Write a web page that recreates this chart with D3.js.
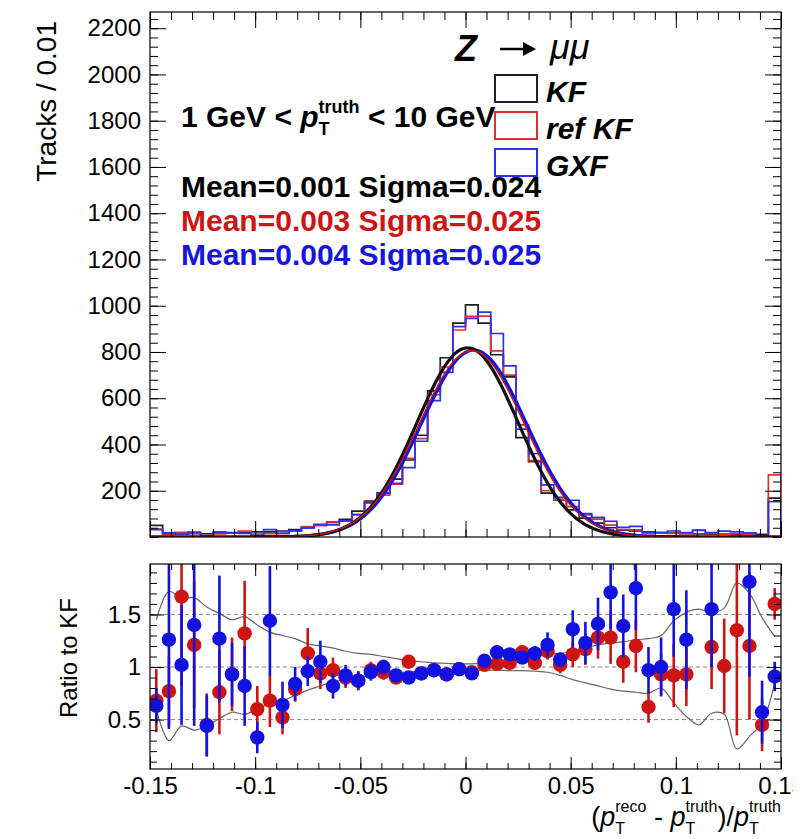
<!DOCTYPE html>
<html>
<head>
<meta charset="utf-8">
<script src="https://cdn.jsdelivr.net/npm/d3@7"></script>
<style>
  body { margin: 0; background: #fff; }
  svg { display: block; font-family: "Liberation Sans", Arial, Helvetica, sans-serif; }
  text { white-space: pre; }
</style>
</head>
<body>
<svg id="chart"></svg>
<script>
// Svg element dimensions
const width = 809;
const height = 839;

// Binning of the residual histograms
const xMin = -0.15;
const binWidth = 0.006;
const nBins = 50;

// Tracks per bin
const kfCounts = [50, 14, 12, 15, 14, 17, 19, 20, 22, 22,
  26, 32, 40, 52, 64, 76, 112, 155, 190, 250,
  333, 440, 632, 775, 925, 1004, 925, 788, 692, 430,
  326, 190, 160, 117, 82, 60, 40, 30, 26, 22,
  19, 17, 15, 13, 12, 12, 10, 10, 11, 168];
const refCounts = [34, 11, 20, 18, 6, 13, 18, 26, 13, 15,
  14, 25, 45, 49, 62, 68, 97, 150, 181, 228,
  340, 425, 615, 735, 895, 954, 955, 805, 700, 485,
  330, 200, 163, 131, 96, 77, 51, 32, 31, 14,
  18, 16, 14, 28, 14, 12, 14, 12, 5, 269];
const gxfCounts = [32, 18, 12, 21, 6, 22, 18, 16, 7, 32,
  17, 27, 38, 55, 52, 70, 97, 147, 190, 232,
  300, 414, 590, 712, 910, 945, 972, 880, 740, 466,
  360, 225, 171, 159, 101, 85, 68, 42, 46, 21,
  19, 26, 19, 30, 19, 25, 22, 18, 6, 153];

// Gaussian fit results (KF, ref KF, GXF)
const fitMean = [0.001, 0.003, 0.004];
const fitSigma = [0.024, 0.025, 0.025];
const fitPeak = [818, 806, 808];

// Ratio to KF, with error bars
const ratioRef = [0.68, 0.77, 1.67, 1.21, 0.45, 0.76, 0.93, 1.32, 0.60, 0.68,
  0.52, 0.79, 1.13, 0.94, 0.97, 0.90, 0.87, 0.97, 0.95, 0.90,
  1.05, 0.94, 0.97, 0.93, 0.98, 0.95, 1.02, 1.03, 1.04, 1.14,
  1.04, 1.15, 1.02, 1.12, 1.17, 1.28, 1.28, 1.05, 1.20, 0.62,
  0.93, 0.92, 0.93, null, 1.19, 1.01, 1.35, 1.20, 0.45, 1.60];
const ratioRefErr = [0.30, 0.33, 0.85, 0.60, 0.30, 0.40, 0.35, 0.50, 0.22, 0.25,
  0.16, 0.12, 0.24, 0.15, 0.12, 0.10, 0.09, 0.08, 0.07, 0.06,
  0.06, 0.05, 0.05, 0.05, 0.05, 0.05, 0.05, 0.05, 0.05, 0.06,
  0.07, 0.08, 0.08, 0.12, 0.15, 0.20, 0.25, 0.20, 0.25, 0.15,
  0.20, 0.30, 0.30, null, 0.40, 0.45, 1.00, 0.70, 0.25, 0.15];
const ratioGxf = [0.63, 1.26, 1.02, 1.40, 0.44, 1.27, 0.93, 0.82, 0.33, 1.44,
  0.64, 0.84, 0.96, 1.05, 0.82, 0.92, 0.87, 0.95, 1.00, 0.92,
  0.90, 0.94, 0.97, 0.93, 0.98, 0.94, 1.06, 1.14, 1.12, 1.09,
  1.13, 1.21, 1.07, 1.36, 1.23, 1.41, 1.71, 1.39, 1.75, 0.97,
  1.00, 1.55, 1.26, null, 1.55, null, null, 1.81, 0.57, 0.91];
const ratioGxfErr = [0.17, 0.85, 0.57, 0.96, 0.29, 0.60, 0.30, 0.38, 0.15, 0.52,
  0.22, 0.16, 0.14, 0.20, 0.12, 0.10, 0.09, 0.08, 0.07, 0.06,
  0.06, 0.05, 0.05, 0.05, 0.05, 0.05, 0.05, 0.05, 0.05, 0.06,
  0.07, 0.12, 0.07, 0.18, 0.20, 0.25, 0.35, 0.30, 0.40, 0.22,
  0.28, 0.45, 0.47, null, 0.55, null, null, 0.90, 0.30, 0.14];

// Grey uncertainty band on the ratio
const bandUp = [1.45, 1.72, 1.65, 1.66, 1.57, 1.51, 1.45, 1.48, 1.40, 1.33,
  1.30, 1.27, 1.22, 1.20, 1.18, 1.15, 1.13, 1.12, 1.10, 1.08,
  1.06, 1.05, 1.04, 1.035, 1.03, 1.03, 1.04, 1.05, 1.06, 1.08,
  1.10, 1.12, 1.13, 1.15, 1.18, 1.21, 1.23, 1.24, 1.26, 1.27,
  1.30, 1.44, 1.52, 1.55, 1.52, 1.56, 1.80, 1.70, 1.47, 1.29];
const bandDown = [0.60, 0.30, 0.44, 0.40, 0.44, 0.51, 0.57, 0.55, 0.60, 0.65,
  0.68, 0.73, 0.78, 0.82, 0.86, 0.88, 0.90, 0.92, 0.94, 0.95,
  0.95, 0.96, 0.965, 0.965, 0.97, 0.97, 0.97, 0.97, 0.965, 0.965,
  0.96, 0.95, 0.92, 0.88, 0.85, 0.82, 0.79, 0.77, 0.76, 0.75,
  0.80, 0.66, 0.53, 0.45, 0.56, 0.55, 0.22, 0.34, 0.47, 0.85];

// Axis ticks
const xTicks = [-0.15, -0.1, -0.05, 0, 0.05, 0.1, 0.15];
const yTicks = [200, 400, 600, 800, 1000, 1200, 1400, 1600, 1800, 2000, 2200];
const ratioTicks = [0.5, 1, 1.5];

const lineColors = ["#1e1e1e", "#dd3030", "#3030ee"];
const markerColors = ["#111", "#cc1512", "#1212e0"];

const svg = d3.select("#chart").attr("width", width).attr("height", height);

// Frames
const main = { left: 150, right: 781, top: 12, bottom: 537 };
const ratio = { left: 150, right: 781, top: 564, bottom: 769 };

const xScale = d3.scaleLinear().domain([-0.15, 0.15]).range([main.left, main.right]);
const yScale = d3.scaleLinear().domain([0, 2270]).range([main.bottom, main.top]);
const rScale = d3.scaleLinear().domain([0.03, 1.98]).range([ratio.bottom, ratio.top]);

const binIdx = d3.range(nBins);
const binLo = (i) => xMin + i * binWidth;
const binMid = (i) => xMin + (i + 0.5) * binWidth;

const defs = svg.append("defs");
defs.append("clipPath").attr("id", "clipMain")
  .append("rect").attr("x", main.left).attr("y", main.top)
  .attr("width", main.right - main.left).attr("height", main.bottom - main.top);
defs.append("clipPath").attr("id", "clipRatio")
  .append("rect").attr("x", ratio.left).attr("y", ratio.top)
  .attr("width", ratio.right - ratio.left).attr("height", ratio.bottom - ratio.top);
defs.append("clipPath").attr("id", "clipPage")
  .append("rect").attr("x", 0).attr("y", 0).attr("width", 793).attr("height", height);

// ---- ticks (ROOT style: inward, on all four sides)
const minorX = d3.range(-15, 16).map((v) => v / 100);
const fmt = (d) => String(d);

function ticks(frame, y, yMajor, yMinor, len) {
  const g = svg.append("g");
  const put = (axis, tx, ty) => {
    const a = g.append("g").attr("transform", `translate(${tx},${ty})`).call(axis);
    a.select(".domain").remove();
    a.selectAll(".tick line").attr("stroke", "#000").attr("stroke-width", 1);
    return a;
  };
  put(d3.axisBottom(xScale).tickValues(xTicks).tickSize(-len.xMaj).tickFormat(""), 0, frame.bottom);
  put(d3.axisBottom(xScale).tickValues(minorX).tickSize(-len.xMin).tickFormat(""), 0, frame.bottom);
  put(d3.axisTop(xScale).tickValues(xTicks).tickSize(-len.xMaj).tickFormat(""), 0, frame.top);
  put(d3.axisTop(xScale).tickValues(minorX).tickSize(-len.xMin).tickFormat(""), 0, frame.top);
  put(d3.axisLeft(y).tickValues(yMinor).tickSize(-len.yMin).tickFormat(""), frame.left, 0);
  put(d3.axisRight(y).tickValues(yMinor).tickSize(-len.yMin).tickFormat(""), frame.right, 0);
  put(d3.axisRight(y).tickValues(yMajor).tickSize(-len.yMaj).tickFormat(""), frame.right, 0);
  const left = put(d3.axisLeft(y).tickValues(yMajor).tickSize(-len.yMaj).tickPadding(9).tickFormat(fmt), frame.left, 0);
  left.attr("font-family", null).attr("font-size", 24).selectAll("text").attr("fill", "#000");
  g.append("rect").attr("x", frame.left).attr("y", frame.top)
    .attr("width", frame.right - frame.left).attr("height", frame.bottom - frame.top)
    .attr("fill", "none").attr("stroke", "#000").attr("stroke-width", 1.2);
}

// ---- top panel: histograms and fits
const hist = svg.append("g").attr("clip-path", "url(#clipMain)");

[kfCounts, refCounts, gxfCounts].forEach((counts, k) => {
  let d = `M${xScale(binLo(0))},${yScale(0)}`;
  counts.forEach((c, i) => {
    d += `V${yScale(c)}H${xScale(binLo(i + 1))}`;
  });
  d += `V${yScale(0)}`;
  hist.append("path").attr("d", d).attr("fill", "none")
    .attr("stroke", lineColors[k]).attr("stroke-width", 1.7);
});

// fit curves: GXF and KF thick, ref KF thin on top
const fitX = d3.range(0, 301).map((i) => -0.15 + i * 0.001);
[2, 0, 1].forEach((k) => {
  const line = d3.line()
    .x((x) => xScale(x))
    .y((x) => yScale(fitPeak[k] * Math.exp(-0.5 * ((x - fitMean[k]) / fitSigma[k]) ** 2)));
  hist.append("path").datum(fitX).attr("d", line).attr("fill", "none")
    .attr("stroke", markerColors[k])
    .attr("stroke-width", k === 1 ? 1.5 : 3.2);
});

ticks(main, yScale, yTicks, d3.range(0, 2271, 40),
  { xMaj: 16, xMin: 8, yMaj: 16, yMin: 8 });

// ---- ratio panel
const rg = svg.append("g").attr("clip-path", "url(#clipRatio)");

rg.selectAll("line.grid").data(ratioTicks).enter().append("line")
  .attr("x1", ratio.left).attr("x2", ratio.right)
  .attr("y1", (d) => rScale(d)).attr("y2", (d) => rScale(d))
  .attr("stroke", "#888").attr("stroke-width", 1).attr("stroke-dasharray", "4,3");

[bandUp, bandDown].forEach((band) => {
  const line = d3.line().curve(d3.curveCatmullRom)
    .x((d, i) => xScale(binMid(i))).y((d) => rScale(d));
  rg.append("path").datum(band).attr("d", line).attr("fill", "none")
    .attr("stroke", "#666").attr("stroke-width", 1.2);
});

[[ratioRef, ratioRefErr, 1], [ratioGxf, ratioGxfErr, 2]].forEach(([vals, errs, k]) => {
  const pts = binIdx.filter((i) => vals[i] !== null);
  rg.append("g").selectAll("line").data(pts).enter().append("line")
    .attr("x1", (i) => xScale(binMid(i))).attr("x2", (i) => xScale(binMid(i)))
    .attr("y1", (i) => rScale(vals[i] - errs[i])).attr("y2", (i) => rScale(vals[i] + errs[i]))
    .attr("stroke", markerColors[k]).attr("stroke-width", 2.6);
  rg.append("g").selectAll("circle").data(pts).enter().append("circle")
    .attr("cx", (i) => xScale(binMid(i))).attr("cy", (i) => rScale(vals[i]))
    .attr("r", 7.2).attr("fill", markerColors[k]);
});

ticks(ratio, rScale, ratioTicks, d3.range(0.1, 1.95, 0.1).map((v) => +v.toFixed(1)),
  { xMaj: 12, xMin: 6, yMaj: 14, yMin: 7 });

// x tick labels under the ratio panel (right end cut as in the original)
const xLab = svg.append("g").attr("clip-path", "url(#clipPage)")
  .append("g").attr("transform", `translate(0,${ratio.bottom})`)
  .call(d3.axisBottom(xScale).tickValues(xTicks).tickSize(0).tickPadding(8).tickFormat(fmt));
xLab.select(".domain").remove();
xLab.attr("font-family", null).attr("font-size", 24).selectAll("text").attr("fill", "#000");

// ---- text helpers
function richText(parts, x, y, anchor) {
  const g = svg.append("g");
  let cx = 0;
  const add = (txt, px, dy, p) => g.append("text").attr("x", px).attr("y", dy)
    .attr("font-size", p.size).attr("font-weight", p.bold ? "bold" : "normal")
    .attr("font-style", p.italic ? "italic" : "normal")
    .attr("fill", p.color || "#000").text(txt);
  parts.forEach((p) => {
    if (p.sup !== undefined) {
      const a = add(p.sup, cx, -p.up, p);
      const b = add(p.sub, cx, p.down, p);
      cx += Math.max(a.node().getComputedTextLength(), b.node().getComputedTextLength());
    } else {
      cx += add(p.t, cx, 0, p).node().getComputedTextLength();
    }
  });
  g.attr("transform", `translate(${anchor === "end" ? x - cx : x},${y})`);
  return g;
}

// Axis titles
svg.append("text").attr("transform", "translate(56,21) rotate(-90)")
  .attr("text-anchor", "end").attr("font-size", 28).text("Tracks / 0.01");
svg.append("text").attr("transform", "translate(77,598) rotate(-90)")
  .attr("text-anchor", "end").attr("font-size", 24).text("Ratio to KF");

richText([
  { t: "(", size: 27 },
  { t: "p", size: 27, italic: true },
  { sup: "reco", sub: "T", size: 16, up: 14, down: 8 },
  { t: " - ", size: 27 },
  { t: "p", size: 27, italic: true },
  { sup: "truth", sub: "T", size: 16, up: 14, down: 8 },
  { t: ")/", size: 27 },
  { t: "p", size: 27, italic: true },
  { sup: "truth", sub: "T", size: 16, up: 14, down: 8 }
], 781, 826, "end");

// Selection label
richText([
  { t: "1 GeV < ", size: 30, bold: true },
  { t: "p", size: 30, bold: true, italic: true },
  { sup: "truth", sub: "T", size: 18, bold: true, up: 14, down: 8 },
  { t: " < 10 GeV", size: 30, bold: true }
], 181, 127);

// Fit results
const statColors = ["#000", "#cc1515", "#1515dd"];
fitMean.forEach((m, k) => {
  svg.append("text").attr("x", 181).attr("y", 197 + k * 34)
    .attr("font-size", 30).attr("font-weight", "bold").attr("fill", statColors[k])
    .text(`Mean=${m.toFixed(3)} Sigma=${fitSigma[k].toFixed(3)}`);
});

// Process label
svg.append("text").attr("x", 455).attr("y", 61).attr("font-size", 36)
  .attr("font-weight", "bold").attr("font-style", "italic").text("Z");
svg.append("line").attr("x1", 500).attr("x2", 526).attr("y1", 49).attr("y2", 49)
  .attr("stroke", "#000").attr("stroke-width", 2.5);
svg.append("path").attr("d", "M523,42L536,49L523,56Z").attr("fill", "#000");
svg.append("text").attr("x", 550).attr("y", 59).attr("font-size", 36)
  .attr("font-style", "italic").text("\u03bc\u03bc");

// Legend
const legendNames = ["KF", "ref KF", "GXF"];
legendNames.forEach((name, k) => {
  const y0 = 75 + k * 37;
  svg.append("rect").attr("x", 495).attr("y", y0).attr("width", 42).attr("height", 27)
    .attr("fill", "none").attr("stroke", lineColors[k]).attr("stroke-width", 2);
  svg.append("text").attr("x", 546).attr("y", y0 + 27).attr("font-size", 30)
    .attr("font-weight", "bold").attr("font-style", "italic").text(name);
});
</script>
</body>
</html>
